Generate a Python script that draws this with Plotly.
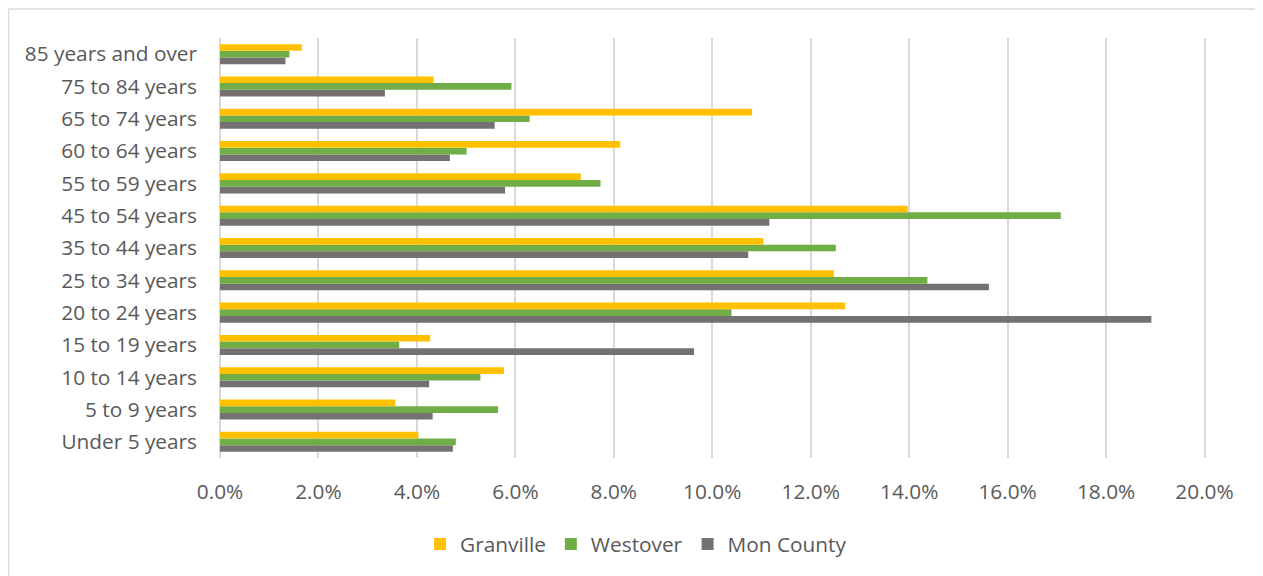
import plotly.graph_objects as go

# %% Data (share of population by age group)
age_groups = ['Under 5 years', '5 to 9 years', '10 to 14 years', '15 to 19 years',
              '20 to 24 years', '25 to 34 years', '35 to 44 years', '45 to 54 years',
              '55 to 59 years', '60 to 64 years', '65 to 74 years', '75 to 84 years',
              '85 years and over']

granville = [4.03, 3.56, 5.77, 4.27, 12.70, 12.47, 11.04, 13.97, 7.33, 8.13, 10.81, 4.34, 1.66]
westover = [4.79, 5.65, 5.29, 3.64, 10.39, 14.37, 12.51, 17.08, 7.73, 5.01, 6.29, 5.92, 1.41]
mon_county = [4.73, 4.32, 4.25, 9.63, 18.92, 15.62, 10.73, 11.16, 5.79, 4.67, 5.58, 3.35, 1.33]

# %% Figure
font_family = 'Open Sans, Lato, sans-serif'
text_color = '#595959'
grid_color = '#D9D9D9'
font_size = 20.8

fig = go.Figure()

# added bottom-to-top so Granville sits on top within each group
series = [('Mon County', mon_county, '#767171'),
          ('Westover', westover, '#70AD47'),
          ('Granville', granville, '#FFC000')]
for name, values, color in series:
    fig.add_trace(go.Bar(
        y=age_groups,
        x=[v / 100 for v in values],
        name=name,
        orientation='h',
        marker=dict(color=color, line=dict(width=0)),
    ))

# page body has an 8px margin, so the figure is a bit smaller than the window
fig.update_layout(
    width=1255,
    height=568,
    barmode='group',
    bargap=0.38,
    bargroupgap=0,
    plot_bgcolor='white',
    paper_bgcolor='white',
    margin=dict(l=212, r=57, t=30, b=117),
    font=dict(family=font_family, size=font_size, color=text_color),
    legend=dict(
        orientation='h',
        traceorder='reversed',
        x=0.422, xanchor='center',
        y=-0.203, yanchor='middle',
        font=dict(size=font_size, color=text_color),
        itemwidth=30,
    ),
    showlegend=True,
)

fig.update_xaxes(
    range=[0, 0.2003],
    tickformat='.1%',
    dtick=0.02,
    showgrid=True,
    gridcolor=grid_color,
    gridwidth=1.5,
    zeroline=True,
    zerolinecolor=grid_color,
    zerolinewidth=1.5,
    showline=False,
    ticks='',
    ticklabelstandoff=19,
    tickfont=dict(size=font_size, color=text_color),
)
fig.update_yaxes(
    categoryorder='array',
    categoryarray=age_groups,
    showgrid=False,
    showline=False,
    ticks='',
    ticklabelstandoff=22,
    tickfont=dict(size=font_size, color=text_color),
)

# chart frame (top and left edges visible in the reference)
fig.add_shape(type='line', xref='paper', yref='paper',
              x0=-0.2146, x1=1.1, y0=1.0689, y1=1.0689,
              line=dict(color=grid_color, width=1.5))
fig.add_shape(type='line', xref='paper', yref='paper',
              x0=-0.2146, x1=-0.2146, y0=-0.4, y1=1.0689,
              line=dict(color=grid_color, width=1.5))

fig.write_html('out.html')
